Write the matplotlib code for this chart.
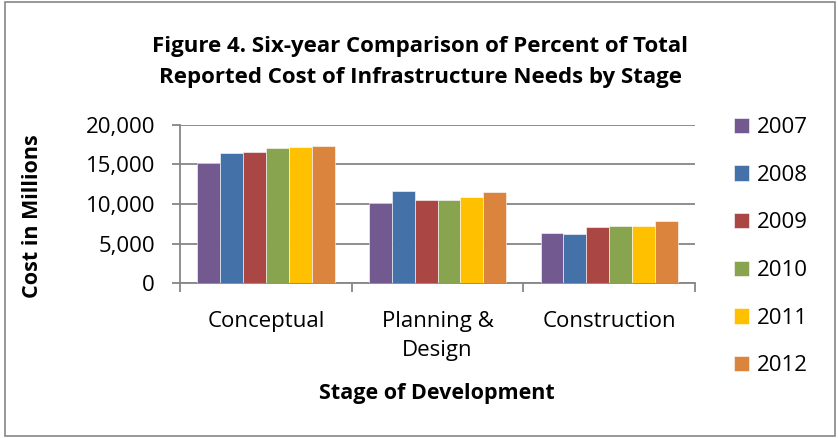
import numpy as np
import matplotlib.pyplot as plt
from matplotlib.patches import Rectangle

stages = ['Conceptual', 'Planning &\nDesign', 'Construction']
years = ['2007', '2008', '2009', '2010', '2011', '2012']
colors = ['#72598f', '#4472a8', '#aa4644', '#89a44e', '#ffc000', '#db843d']

# cost in millions, one list per year (Conceptual, Planning & Design, Construction)
cost_2007 = [15130, 10080, 6340]
cost_2008 = [16430, 11640, 6260]
cost_2009 = [16510, 10500, 7140]
cost_2010 = [17060, 10500, 7270]
cost_2011 = [17180, 10880, 7270]
cost_2012 = [17350, 11470, 7820]
series = [cost_2007, cost_2008, cost_2009, cost_2010, cost_2011, cost_2012]

plt.rcParams['font.family'] = ['Open Sans', 'DejaVu Sans']
W, H = 838, 438

fig = plt.figure(figsize=(W / 100, H / 100), dpi=100)
ax = fig.add_axes([180 / W, 1 - 283.3 / H, 515 / W, 158.6 / H])

x = np.arange(len(stages))
w = 0.8 / len(years)
for i, (yr, vals) in enumerate(zip(years, series)):
    ax.bar(x - 0.4 + w * (i + 0.5), vals, width=w, color=colors[i],
           label=yr, zorder=3, edgecolor='white', linewidth=0.4)

ax.set_xlim(-0.5, 2.5)
ax.set_ylim(0, 20000)
ax.set_yticks(np.arange(0, 20001, 5000))
ax.set_yticklabels(['{:,}'.format(v) for v in range(0, 20001, 5000)], fontsize=16)
ax.yaxis.grid(True, color='#868686', linewidth=1.3, zorder=0)
ax.set_xticks([-0.5, 0.5, 1.5, 2.5])
ax.set_xticklabels([])
ax.set_xticks(x, minor=True)
ax.set_xticklabels(stages, minor=True, fontsize=16, linespacing=1.5)
ax.tick_params(axis='x', which='minor', length=0, pad=20)
ax.tick_params(axis='x', which='major', length=6.5, color='#868686', width=1.3)
ax.tick_params(axis='y', length=6, color='#868686', width=1.3, pad=12)
for side in ['top', 'right']:
    ax.spines[side].set_visible(False)
for side in ['left', 'bottom']:
    ax.spines[side].set_color('#868686')
    ax.spines[side].set_linewidth(1.3)

fig.text(33 / W, 1 - 216 / H, 'Cost in Millions', rotation=90, ha='center', va='center',
         fontsize=15.5, fontweight='bold')
fig.text(437 / W, 1 - 394 / H, 'Stage of Development', ha='center', va='center',
         fontsize=15.5, fontweight='bold')

fig.text(420 / W, 1 - 62 / H, 'Figure 4. Six-year Comparison of Percent of Total\nReported Cost of Infrastructure Needs by Stage',
         ha='center', va='center', fontsize=16, fontweight='bold', linespacing=1.65)

ax.legend(loc='upper left', bbox_to_anchor=(734 / W, 1 - 117 / H),
          bbox_transform=fig.transFigure, frameon=False, borderpad=0, borderaxespad=0,
          fontsize=16, handlelength=0.68, handleheight=0.68,
          labelspacing=1.2, handletextpad=0.35)

fig.patches.append(Rectangle((0.006, 0.004), 0.991, 0.992, transform=fig.transFigure,
                             fill=False, edgecolor='#868686', linewidth=1.2))

fig.savefig('out.png', dpi=100)
